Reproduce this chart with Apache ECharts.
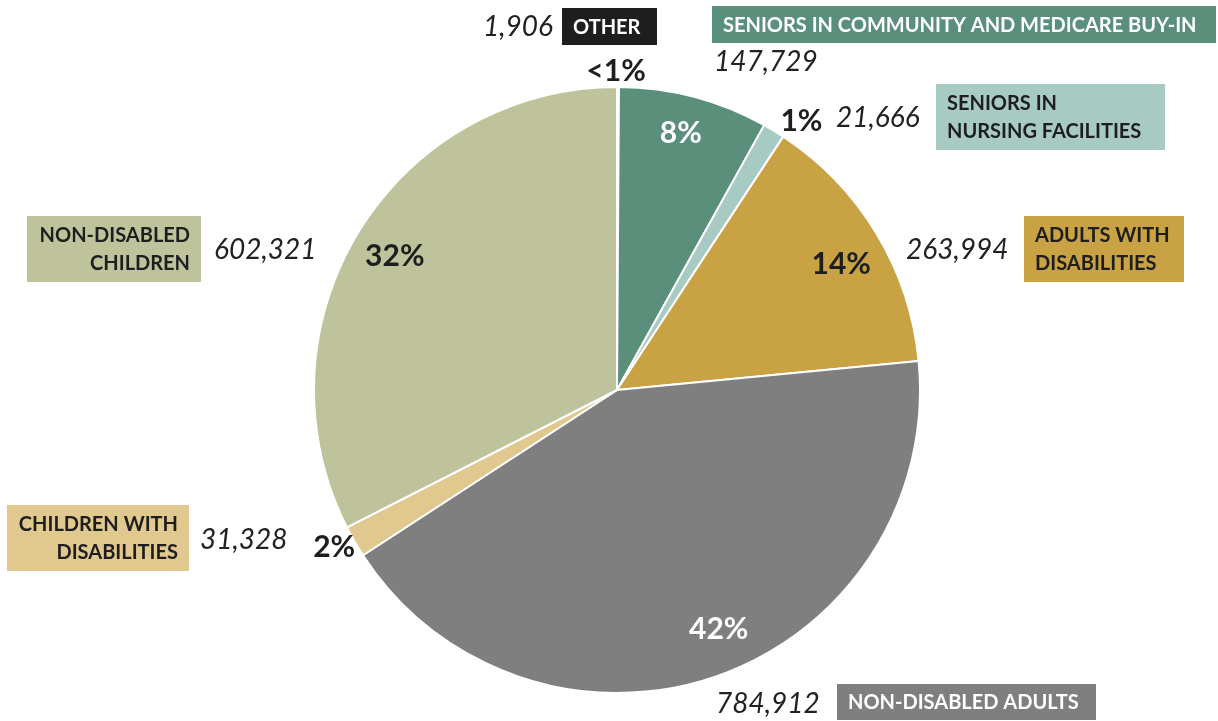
<!DOCTYPE html>
<html>
<head>
<meta charset="utf-8">
<script src="https://cdn.jsdelivr.net/npm/echarts@6/dist/echarts.min.js"></script>
<style>
  html, body { margin: 0; padding: 0; background: #fff; }
  #chart { width: 1218px; height: 721px; }
</style>
</head>
<body>
<div id="chart"></div>
<script>
// data, clockwise from 12 o'clock
var groups = ['OTHER', 'SENIORS IN COMMUNITY AND MEDICARE BUY-IN', 'SENIORS IN\nNURSING FACILITIES',
  'ADULTS WITH\nDISABILITIES', 'NON-DISABLED ADULTS', 'CHILDREN WITH\nDISABILITIES', 'NON-DISABLED\nCHILDREN'];
var enrollees = [1906, 147729, 21666, 263994, 784912, 31328, 602321];
var sliceColors = ['#1e1e1e', '#5a8f7b', '#a7cac3', '#c9a243', '#7f7f7f', '#e0c88e', '#bfc39c'];
var pctColors = ['#1e1e1e', '#ffffff', '#1e1e1e', '#1e1e1e', '#ffffff', '#1e1e1e', '#1e1e1e'];
var boxTextColors = ['#ffffff', '#ffffff', '#1e1e1e', '#1e1e1e', '#ffffff', '#1e1e1e', '#1e1e1e'];

// callout placement: box [x, y, w, h], text alignment, number anchor, nudge for the % label
var callouts = [
  { box: [562, 8, 95, 37], align: 'left', num: [553, 27], numAlign: 'right', nudge: [-2, 7] },
  { box: [712, 6, 504, 37], align: 'left', num: [714, 62], numAlign: 'left', nudge: [-3, -2] },
  { box: [936, 84, 229, 66], align: 'left', num: [836, 118], numAlign: 'left', nudge: [16, 10] },
  { box: [1024, 216, 160, 66], align: 'left', num: [906, 250], numAlign: 'left', nudge: [-1, 10] },
  { box: [837, 684, 259, 36], align: 'left', num: [716, 704], numAlign: 'left', nudge: [15, -9] },
  { box: [7, 505, 182, 66], align: 'right', num: [200, 540], numAlign: 'left', nudge: [-1, -5] },
  { box: [27, 216, 174, 66], align: 'right', num: [214, 250], numAlign: 'left', nudge: [2, 4] }
];

var chart = echarts.init(document.getElementById('chart'));

var pieData = groups.map(function (g, i) {
  return { name: g, value: enrollees[i], itemStyle: { color: sliceColors[i] } };
});
var total = enrollees.reduce(function (a, b) { return a + b; }, 0);

function pctText(p) {
  return p.percent < 1 ? '<1%' : Math.round(p.percent) + '%';
}

function overlay(radius, small) {
  return {
    type: 'pie',
    center: [617, 390],
    radius: radius,
    silent: true,
    avoidLabelOverlap: false,
    emphasis: { disabled: true },
    itemStyle: { color: 'transparent', borderWidth: 0 },
    labelLine: { show: false },
    data: groups.map(function (g, i) {
      var isSmall = enrollees[i] / total < 0.03;
      return {
        name: g, value: enrollees[i],
        label: {
          show: isSmall === small,
          position: 'inside',
          formatter: pctText,
          offset: callouts[i].nudge,
          color: pctColors[i],
          fontFamily: 'Lato',
          fontWeight: 'bold',
          fontSize: 30
        }
      };
    })
  };
}

var graphics = [];
callouts.forEach(function (c, i) {
  var b = c.box;
  graphics.push({
    type: 'rect',
    shape: { x: b[0], y: b[1], width: b[2], height: b[3] },
    style: { fill: sliceColors[i] },
    silent: true
  });
  graphics.push({
    type: 'text',
    x: c.align === 'left' ? b[0] + 11 : b[0] + b[2] - 11,
    y: b[1] + b[3] / 2 + 1,
    style: {
      text: groups[i],
      fill: boxTextColors[i],
      font: 'bold 20px Lato',
      lineHeight: 28,
      align: c.align,
      verticalAlign: 'middle'
    },
    silent: true
  });
  graphics.push({
    type: 'text',
    x: c.num[0],
    y: c.num[1],
    style: {
      text: enrollees[i].toLocaleString('en-US'),
      fill: '#222',
      font: 'italic 28px Lato',
      align: c.numAlign,
      verticalAlign: 'middle'
    },
    silent: true
  });
});

var option = {
  animation: false,
  series: [
    {
      type: 'pie',
      center: [617, 390],
      radius: [0, 303],
      startAngle: 90,
      clockwise: true,
      avoidLabelOverlap: false,
      emphasis: { disabled: true },
      itemStyle: { borderColor: '#ffffff', borderWidth: 2 },
      label: { show: false },
      labelLine: { show: false },
      data: pieData
    },
    overlay([217, 303], false),
    overlay([303, 342], true)
  ],
  graphic: graphics
};
chart.setOption(option);
window.addEventListener('resize', function () {
  chart.resize();
});
</script>
</body>
</html>
